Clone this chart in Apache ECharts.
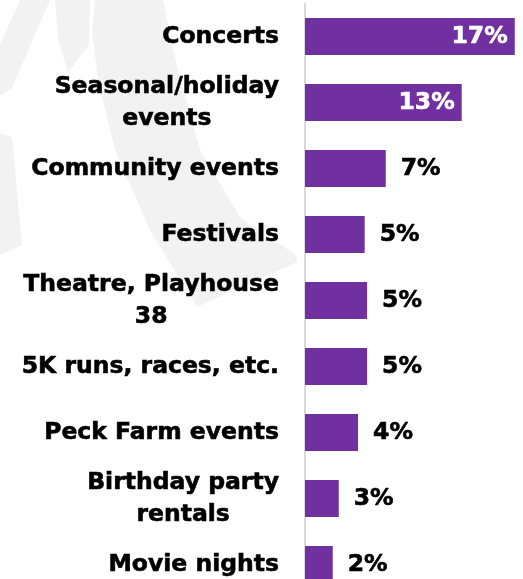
<!DOCTYPE html>
<html>
<head>
<meta charset="utf-8">
<script src="https://cdn.jsdelivr.net/npm/echarts@6/dist/echarts.min.js"></script>
<style>
html,body{margin:0;padding:0;background:#fff;}
#chart{width:523px;height:579px;}
</style>
</head>
<body>
<div id="chart"></div>
<script>
const categories = [
  "Concerts",
  "Seasonal/holiday\nevents",
  "Community events",
  "Festivals",
  "Theatre, Playhouse\n38",
  "5K runs, races, etc.",
  "Peck Farm events",
  "Birthday party\nrentals",
  "Movie nights"
];
const values = [17.4, 13.0, 6.7, 4.95, 5.15, 5.15, 4.4, 2.8, 2.3];
const valueLabels = ["17%", "13%", "7%", "5%", "5%", "5%", "4%", "3%", "2%"];
const insideCount = 2;

const FONT = '"DejaVu Sans", Verdana, sans-serif';
const chart = echarts.init(document.getElementById('chart'), null, {renderer: 'canvas'});

const seriesData = values.map((v, i) => ({
  value: v,
  label: i < insideCount
    ? {position: 'insideRight', distance: 7, color: '#ffffff', textBorderColor: '#ffffff'}
    : {position: 'right', distance: 15, color: '#000000', textBorderColor: '#000000'}
}));

const WM = '#f2f2f2';
function wm(points) {
  return {type: 'polygon', z: -10, silent: true, shape: {points: points}, style: {fill: WM}};
}

chart.setOption({
  animation: false,
  backgroundColor: '#ffffff',
  graphic: [
    wm([[95,0],[163,0],[177,67],[200,150],[240,217],[297,256],[297,262],[197,307],[150,230],[115,150],[98,80],[92,30]]),
    wm([[55,0],[90,0],[89,45],[68,72],[58,40]]),
    wm([[20,0],[50,0],[12,88],[0,95],[0,45]]),
    wm([[0,133],[12,137],[22,245],[0,255]])
  ],
  grid: {left: 305, right: 1, top: 3.5, height: 594, containLabel: false, outerBoundsMode: 'none'},
  xAxis: {
    type: 'value', min: 0, max: 18,
    show: false
  },
  yAxis: {
    type: 'category',
    data: categories,
    inverse: true,
    axisLine: {show: true, lineStyle: {color: '#d9d9d9', width: 2}},
    axisTick: {show: false},
    splitLine: {show: false},
    axisLabel: {
      margin: 26,
      color: '#000000',
      fontFamily: FONT,
      fontWeight: 'bold',
      fontSize: 23.5,
      lineHeight: 32,
      align: 'right',
      formatter: v => v.split('\n').map(s => '{c|' + s + '}').join('\n'),
      rich: {
        c: {
          align: 'center',
          color: '#000000',
          fontFamily: FONT,
          fontWeight: 'bold',
          fontSize: 23.5,
          lineHeight: 32,
          textBorderColor: '#000000',
          textBorderWidth: 0.6
        }
      }
    }
  },
  series: [{
    type: 'bar',
    data: seriesData,
    barWidth: 37,
    itemStyle: {color: '#7030A0'},
    label: {
      show: true,
      fontFamily: FONT,
      fontWeight: 'bold',
      fontSize: 23.5,
      textBorderWidth: 0.6,
      formatter: p => valueLabels[p.dataIndex]
    }
  }]
});
</script>
</body>
</html>
